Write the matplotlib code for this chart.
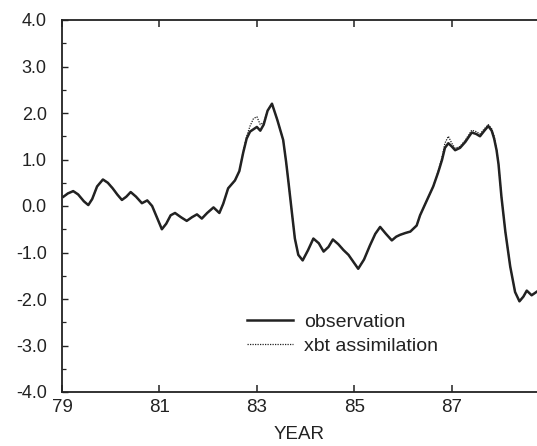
import matplotlib
matplotlib.use("Agg")
import matplotlib.pyplot as plt
from matplotlib.ticker import MultipleLocator, FormatStrFormatter

plt.rcParams['font.family'] = ['Liberation Sans', 'DejaVu Sans']

# observation series (year, anomaly)
obs_year = [79.03, 79.12, 79.23, 79.33, 79.45, 79.54, 79.62, 79.72, 79.84, 79.94,
            80.04, 80.14, 80.23, 80.32, 80.41, 80.52, 80.64, 80.75, 80.85, 80.95,
            81.05, 81.14, 81.23, 81.32, 81.44, 81.56, 81.67, 81.77, 81.87, 81.98,
            82.11, 82.23, 82.31, 82.41, 82.55, 82.64, 82.72, 82.79, 82.86, 82.93,
            83.0, 83.07, 83.14, 83.22, 83.31, 83.42, 83.54, 83.6, 83.65, 83.72,
            83.78, 83.85, 83.94, 84.05, 84.16, 84.27, 84.37, 84.47, 84.56, 84.67,
            84.78, 84.88, 84.98, 85.08, 85.2, 85.32, 85.43, 85.53, 85.65, 85.77,
            85.86, 85.94, 86.05, 86.15, 86.28, 86.35, 86.48, 86.62, 86.72, 86.8,
            86.86, 86.93, 87.0, 87.07, 87.17, 87.28, 87.41, 87.5, 87.58, 87.67,
            87.75, 87.82, 87.87, 87.92, 87.96, 88.02, 88.1, 88.2, 88.3, 88.39,
            88.47, 88.54, 88.64, 88.75]
obs_val = [0.2, 0.27, 0.32, 0.25, 0.1, 0.02, 0.15, 0.42, 0.57, 0.5,
           0.38, 0.24, 0.13, 0.2, 0.3, 0.2, 0.06, 0.12, 0.0, -0.25,
           -0.5, -0.38, -0.2, -0.15, -0.24, -0.32, -0.24, -0.18, -0.27, -0.15,
           -0.03, -0.15, 0.05, 0.38, 0.55, 0.75, 1.15, 1.45, 1.6, 1.65,
           1.7, 1.62, 1.75, 2.05, 2.2, 1.85, 1.42, 0.95, 0.5, -0.15,
           -0.7, -1.05, -1.17, -0.95, -0.7, -0.8, -0.98, -0.88, -0.72, -0.82,
           -0.95, -1.05, -1.2, -1.35, -1.15, -0.85, -0.6, -0.45, -0.6, -0.74,
           -0.66, -0.62, -0.58, -0.55, -0.42, -0.2, 0.1, 0.42, 0.72, 0.99,
           1.25, 1.35, 1.28, 1.2, 1.25, 1.38, 1.58, 1.55, 1.5, 1.62,
           1.72, 1.62, 1.45, 1.2, 0.9, 0.2, -0.55, -1.3, -1.85, -2.05,
           -1.95, -1.82, -1.92, -1.84]

# xbt assimilation (same sampling, departs only near the peaks)
xbt_val = [0.2, 0.27, 0.32, 0.25, 0.1, 0.02, 0.15, 0.42, 0.57, 0.5,
           0.38, 0.24, 0.13, 0.2, 0.3, 0.2, 0.06, 0.12, 0.0, -0.25,
           -0.5, -0.38, -0.2, -0.15, -0.24, -0.32, -0.24, -0.18, -0.27, -0.15,
           -0.03, -0.15, 0.05, 0.38, 0.55, 0.75, 1.18, 1.5, 1.72, 1.88,
           1.92, 1.75, 1.8, 2.05, 2.2, 1.85, 1.42, 0.95, 0.5, -0.15,
           -0.7, -1.05, -1.17, -0.95, -0.7, -0.8, -0.98, -0.88, -0.72, -0.82,
           -0.95, -1.05, -1.2, -1.35, -1.15, -0.85, -0.6, -0.45, -0.6, -0.74,
           -0.66, -0.62, -0.58, -0.55, -0.42, -0.2, 0.1, 0.42, 0.74, 1.05,
           1.35, 1.5, 1.35, 1.24, 1.28, 1.42, 1.63, 1.6, 1.55, 1.66,
           1.75, 1.66, 1.5, 1.22, 0.9, 0.2, -0.55, -1.3, -1.85, -2.05,
           -1.95, -1.82, -1.92, -1.84]

year_ticks = [79, 81, 83, 85, 87]
ink = '#222222'

fig = plt.figure(figsize=(5.37, 4.46), dpi=100)
ax = fig.add_axes([62 / 537, 54 / 446, 475 / 537, 372 / 446])

ax.plot(obs_year, xbt_val, color=ink, lw=0.9, ls=(0, (1, 1)), label='xbt assimilation')
ax.plot(obs_year, obs_val, color=ink, lw=1.8, label='observation')

ax.set_xlim(79, 88.75)
ax.set_ylim(-4, 4)
ax.set_xticks(year_ticks)
ax.yaxis.set_major_locator(MultipleLocator(1.0))
ax.yaxis.set_minor_locator(MultipleLocator(0.5))
ax.yaxis.set_major_formatter(FormatStrFormatter('%.1f'))

ax.spines['right'].set_visible(False)
for s in ['left', 'top', 'bottom']:
    ax.spines[s].set_color(ink)
    ax.spines[s].set_linewidth(1.3)

ax.tick_params(axis='x', which='major', direction='in', top=True, length=5,
               width=1.1, color=ink, labelsize=13.5, labelcolor=ink, pad=5)
ax.tick_params(axis='y', which='major', direction='in', length=4, width=1.0,
               color=ink, labelsize=13, labelcolor=ink, pad=11)
ax.tick_params(axis='y', which='minor', direction='in', length=3, width=0.9, color=ink)
ax.set_xlabel('YEAR', fontsize=13.5, color=ink, labelpad=7)

handles, labels = ax.get_legend_handles_labels()
ax.legend(handles[::-1], labels[::-1], loc='upper left', bbox_to_anchor=(0.389, 0.212),
          frameon=False, fontsize=14, handlelength=2.4, handletextpad=0.55,
          labelspacing=0.35, borderpad=0, borderaxespad=0, labelcolor=ink)

fig.savefig('out.png', dpi=100)
